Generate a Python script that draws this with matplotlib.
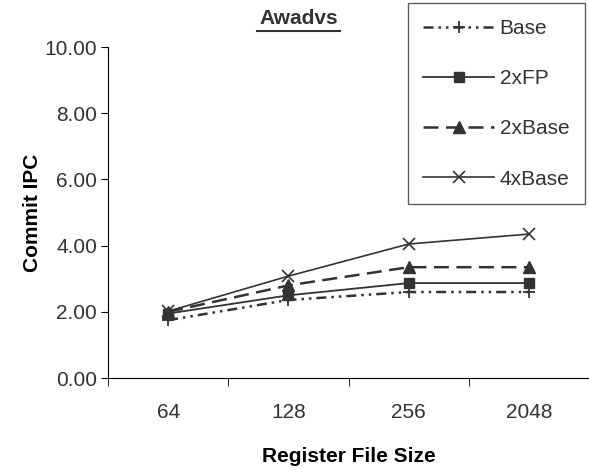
import matplotlib.pyplot as plt
import numpy as np

plt.rcParams['font.family'] = ['Liberation Sans', 'DejaVu Sans']

sizes = ['64', '128', '256', '2048']
base = [1.75, 2.36, 2.60, 2.60]
fp2x = [1.95, 2.50, 2.87, 2.87]
base2x = [2.00, 2.80, 3.35, 3.35]
base4x = [2.02, 3.08, 4.05, 4.35]

col = '#333333'
x = np.arange(len(sizes))

fig = plt.figure(figsize=(5.89, 4.75), dpi=100)
ax = fig.add_axes([0.1834, 0.204, 0.8166, 0.697])

ax.plot(x, base, color=col, lw=1.8, ls=(0, (4, 2, 1, 2, 1, 2)), marker='+', ms=9, mew=1.3, label='Base')
ax.plot(x, fp2x, color=col, lw=1.3, ls='-', marker='s', ms=7, label='2xFP')
ax.plot(x, base2x, color=col, lw=1.8, ls=(0, (6, 3)), marker='^', ms=9, label='2xBase')
ax.plot(x, base4x, color=col, lw=1.2, ls='-', marker='x', ms=9, mew=1.2, label='4xBase')

ax.set_xlim(-0.5, 3.5)
ax.set_ylim(0, 10)
ax.set_yticks(np.arange(0, 11, 2))
ax.set_yticklabels([f'{v:.2f}' for v in np.arange(0, 11, 2)], fontsize=15, color=col)
ax.set_xticks(x)
ax.set_xticklabels(sizes, fontsize=15, color=col)
ax.set_xticks([-0.5, 0.5, 1.5, 2.5], minor=True)
ax.tick_params(axis='x', which='major', length=0, pad=18)
ax.tick_params(axis='x', which='minor', length=6, direction='out', color='black')
ax.tick_params(axis='y', length=5, direction='out', pad=3)
for s in ['top', 'right']:
    ax.spines[s].set_visible(False)

ax.set_xlabel('Register File Size', fontsize=15, fontweight='bold', labelpad=18)
ax.set_ylabel('Commit IPC', fontsize=15, fontweight='bold', labelpad=2)

fig.text(0.507, 0.96, 'Awadvs', fontsize=15, fontweight='bold', color=col,
         ha='center', va='center')
fig.add_artist(plt.Line2D([0.437, 0.578], [0.935, 0.935], color=col, lw=1.5))

leg = fig.legend(loc='upper right', bbox_to_anchor=(0.993, 0.993), fontsize=15,
                 handlelength=3.4, labelspacing=1.5, borderpad=0.75,
                 handletextpad=0.25, borderaxespad=0, frameon=True, fancybox=False)
leg.get_frame().set_edgecolor(col)
leg.get_frame().set_linewidth(1.0)
for t in leg.get_texts():
    t.set_color(col)

fig.savefig('out.png', dpi=100)
